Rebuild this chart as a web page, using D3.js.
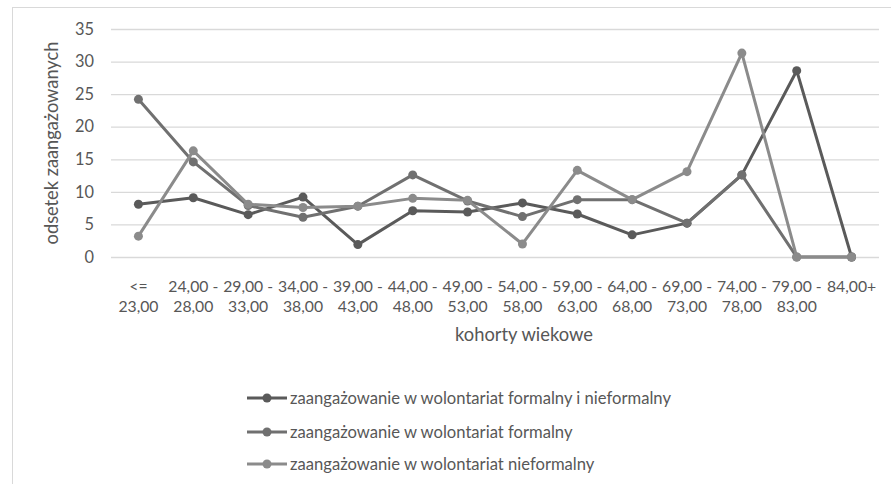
<!DOCTYPE html>
<html>
<head>
<meta charset="utf-8">
<script src="https://cdn.jsdelivr.net/npm/d3@7"></script>
<style>
  html, body { margin: 0; padding: 0; background: #fff; }
  svg { display: block; font-family: Lato, "Noto Sans", sans-serif; }
</style>
</head>
<body>
<svg id="chart" width="891" height="484"></svg>
<script>
// Age cohorts (a space before the last part marks the line break)
const categories = [
  "<= 23,00", "24,00 - 28,00", "29,00 - 33,00", "34,00 - 38,00", "39,00 - 43,00",
  "44,00 - 48,00", "49,00 - 53,00", "54,00 - 58,00", "59,00 - 63,00", "64,00 - 68,00",
  "69,00 - 73,00", "74,00 - 78,00", "79,00 - 83,00", "84,00+"
];

const seriesNames = [
  "zaangażowanie w wolontariat formalny i nieformalny",
  "zaangażowanie w wolontariat formalny",
  "zaangażowanie w wolontariat nieformalny"
];

// Share of engaged people (%) per cohort
const formalAndInformal = [8.1, 9.1, 6.5, 9.2, 1.9, 7.1, 6.9, 8.3, 6.6, 3.4, 5.2, 12.6, 28.6, 0];
const formalOnly        = [24.2, 14.6, 7.9, 6.1, 7.8, 12.6, 8.6, 6.2, 8.8, 8.8, 5.2, 12.6, 0, 0];
const informalOnly      = [3.2, 16.3, 8.1, 7.6, 7.8, 9.0, 8.7, 2.0, 13.3, 8.8, 13.1, 31.3, 0, 0];

const yTicks = [0, 5, 10, 15, 20, 25, 30, 35];

const yTitle = "odsetek zaangażowanych";
const xTitle = "kohorty wiekowe";

const colors = ["#5a5a5a", "#707070", "#8b8b8b"];
const textColor = "#575757";
const gridColor = "#d9d9d9";

const svg = d3.select("#chart");

// chart frame
svg.append("rect")
  .attr("x", 12.5).attr("y", 7.5)
  .attr("width", 900).attr("height", 500)
  .attr("fill", "none").attr("stroke", gridColor).attr("stroke-width", 1);

const plot = { left: 111, right: 879, top: 29, bottom: 257 };

const x = d3.scaleBand()
  .domain(categories)
  .range([plot.left, plot.right])
  .padding(0);

const y = d3.scaleLinear()
  .domain([0, 35])
  .range([plot.bottom, plot.top]);

const cx = d => x(d) + x.bandwidth() / 2;

// scale a text element's font so it spans a given width
function fitFont(sel, sample, targetWidth, base) {
  const probe = svg.append("text").attr("font-size", base).text(sample);
  const w = probe.node().getComputedTextLength();
  probe.remove();
  const size = base * targetWidth / w;
  sel.attr("font-size", size);
  return size;
}

// gridlines + y tick labels
const yAxis = svg.append("g")
  .attr("transform", `translate(${plot.left},0)`)
  .call(d3.axisLeft(y).tickValues(yTicks).tickSize(-(plot.right - plot.left)).tickPadding(17));
yAxis.select(".domain").remove();
yAxis.selectAll(".tick line").attr("stroke", gridColor).attr("stroke-width", 1.3);
const yLabels = yAxis.selectAll(".tick text")
  .attr("fill", textColor)
  .attr("font-family", "Lato, 'Noto Sans', sans-serif");
fitFont(yLabels, "35", 19, 14);

// x tick labels (two lines)
const xAxis = svg.append("g")
  .attr("transform", `translate(0,${plot.bottom})`)
  .call(d3.axisBottom(x).tickSize(0).tickFormat(""));
xAxis.select(".domain").remove();
const xLabels = xAxis.selectAll(".tick").append("text")
  .attr("fill", textColor)
  .attr("text-anchor", "middle")
  .attr("font-family", "Lato, 'Noto Sans', sans-serif");
fitFont(xLabels, "24,00 -", 50, 14);
xLabels.each(function(d) {
  const i = d.lastIndexOf(" ");
  const lines = i > 0 ? [d.slice(0, i), d.slice(i + 1)] : [d];
  const t = d3.select(this);
  lines.forEach((line, k) => {
    t.append("tspan").attr("x", 0).attr("y", 35 + k * 20).text(line);
  });
});

// axis titles
const yt = svg.append("text")
  .attr("transform", `translate(58,${(plot.top + plot.bottom) / 2}) rotate(-90)`)
  .attr("text-anchor", "middle")
  .attr("fill", textColor)
  .text(yTitle);
fitFont(yt, yTitle, 203, 15);

const xt = svg.append("text")
  .attr("x", 524).attr("y", 341)
  .attr("text-anchor", "middle")
  .attr("fill", textColor)
  .text(xTitle);
fitFont(xt, xTitle, 138, 15);

// series lines and markers
const allSeries = [formalAndInformal, formalOnly, informalOnly];
const line = d3.line()
  .x((v, i) => cx(categories[i]))
  .y(v => y(v));

allSeries.forEach((vals, s) => {
  const g = svg.append("g");
  g.append("path")
    .datum(vals)
    .attr("d", line)
    .attr("fill", "none")
    .attr("stroke", colors[s])
    .attr("stroke-width", 3)
    .attr("stroke-linejoin", "round");
  g.selectAll("circle")
    .data(vals)
    .join("circle")
    .attr("cx", (v, i) => cx(categories[i]))
    .attr("cy", v => y(v))
    .attr("r", 4.5)
    .attr("fill", colors[s]);
});

// legend
const legendRows = [398, 432, 464];
const legend = svg.append("g");
seriesNames.forEach((name, s) => {
  const row = legend.append("g").attr("transform", `translate(0,${legendRows[s]})`);
  row.append("line")
    .attr("x1", 247).attr("x2", 287)
    .attr("y1", 0).attr("y2", 0)
    .attr("stroke", colors[s]).attr("stroke-width", 3);
  row.append("circle").attr("cx", 267).attr("cy", 0).attr("r", 4.5).attr("fill", colors[s]);
  row.append("text")
    .attr("class", "legend-label")
    .attr("x", 290).attr("y", 0).attr("dy", "0.35em")
    .attr("fill", textColor)
    .text(name);
});
fitFont(legend.selectAll(".legend-label"), seriesNames[0], 381, 14);
</script>
</body>
</html>
